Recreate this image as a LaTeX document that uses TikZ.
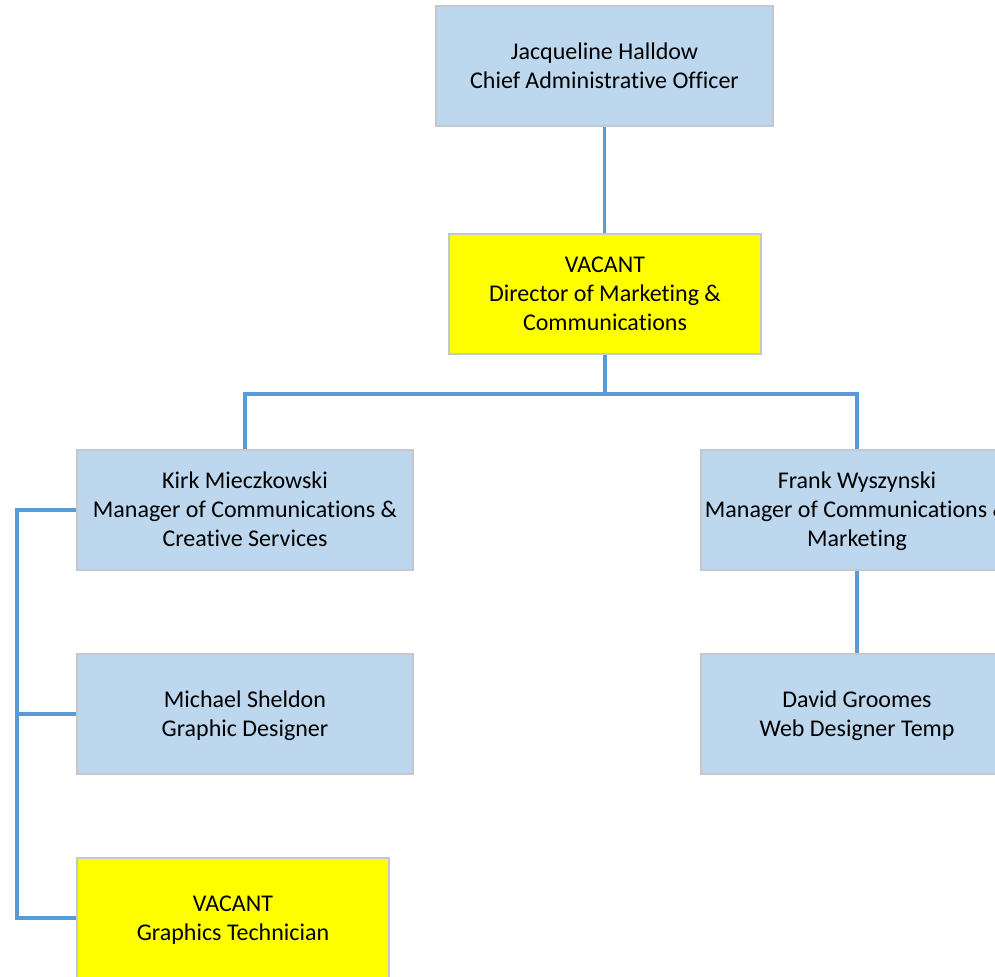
\documentclass[tikz,border=0pt]{standalone}
\usepackage{fontspec}
\setmainfont{Carlito}[RawFeature=-liga]
\newcommand\topst{\rule{0pt}{18.2pt}}
\definecolor{boxblue}{HTML}{BDD7EE}
\definecolor{boxyellow}{HTML}{FFFF00}
\definecolor{boxedge}{HTML}{C4C8CC}
\definecolor{linkblue}{HTML}{5B9BD5}
\begin{document}
\begin{tikzpicture}[x=0.75pt,y=-0.75pt,
  orgbox/.style={draw=boxedge,line width=0.9pt,rectangle,inner sep=0pt,
    minimum height=90pt,align=center,
    font=\fontsize{18}{21.75}\selectfont},
  bluebox/.style={orgbox,fill=boxblue},
  yelbox/.style={orgbox,fill=boxyellow},
  wide/.style={minimum width=252pt},
  narrow/.style={minimum width=234pt},
  link/.style={draw=linkblue,line width=2.3pt}]
\useasboundingbox (0,0) rectangle (995,977);
\clip (0,0) rectangle (995,977);
\node[bluebox,minimum width=252.75pt] (top) at (604.5,66) {\topst Jacqueline Halldow\\Chief Administrative Officer\strut};
\node[yelbox,narrow] (dir) at (605,294) {\topst VACANT\\Director of Marketing \&\\Communications\strut};
\node[bluebox,wide] (kirk) at (245,510) {\topst Kirk Mieczkowski\\Manager of Communications \&\\Creative Services\strut};
\node[bluebox,narrow] (frank) at (857,510) {\topst Frank Wyszynski\\Manager of Communications \&\\Marketing\strut};
\node[bluebox,wide] (mich) at (245,714) {\topst Michael Sheldon\\Graphic Designer\strut};
\node[bluebox,narrow] (david) at (857,714) {\topst David Groomes\\Web Designer Temp\strut};
\node[yelbox,narrow] (gt) at (233,918) {\topst VACANT\\Graphics Technician\strut};
\coordinate (hub) at (605,394);
\coordinate (rail) at (17,510);
\draw[link] (top.south) -- (top.south |- dir.north);
\draw[link] (dir.south) -- (hub);
\draw[link] (kirk.north) |- (hub) -| (frank.north);
\draw[link] (frank.south) -- (david.north);
\draw[link] (kirk.west) -- (rail) |- (gt.west);
\draw[link] (mich.west) -- (mich.west -| rail);
\end{tikzpicture}
\end{document}
